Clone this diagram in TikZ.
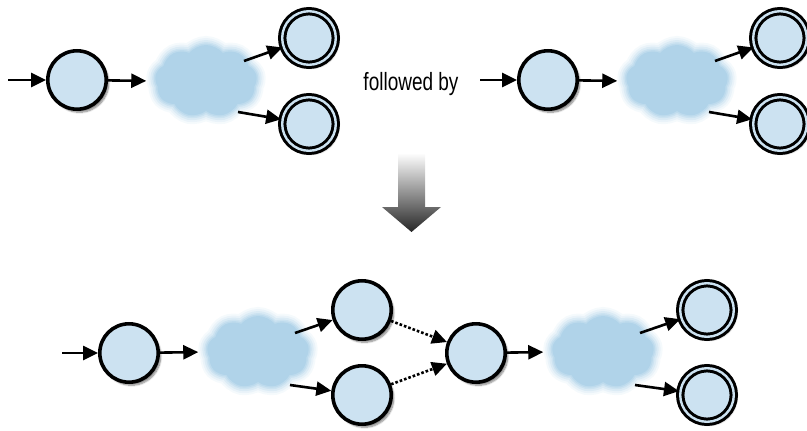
\documentclass[tikz,border=0pt]{standalone}
\usepackage{fontspec}
\newfontfamily\narrowsans[FakeStretch=0.76]{Liberation Sans}
\usetikzlibrary{arrows.meta,shapes.symbols,shadows.blur}

\definecolor{statefill}{RGB}{204,226,241}
\definecolor{cloudfill}{RGB}{176,211,233}

\begin{document}
\begin{tikzpicture}[x=1pt,y=-1pt,
    state/.style={circle,draw,line width=3.6pt,fill=statefill,inner sep=0pt,
        minimum size=58.4pt,
        blur shadow={shadow xshift=2.5pt,shadow yshift=-3pt,shadow blur steps=8,shadow opacity=50}},
    accept/.style={state,line width=3pt,double=statefill,double distance=2.4pt,
        minimum size=53.6pt},
    fuzzy/.style={cloud,cloud puffs=9,cloud puff arc=100,aspect=1.4,
        minimum width=102pt,minimum height=72pt,inner sep=0pt,
        fill=cloudfill,draw=none,
        preaction={draw=cloudfill,line width=18pt,opacity=0.12},
        preaction={draw=cloudfill,line width=14pt,opacity=0.17},
        preaction={draw=cloudfill,line width=10pt,opacity=0.25},
        preaction={draw=cloudfill,line width=6pt,opacity=0.35},
        preaction={draw=cloudfill,line width=3pt,opacity=0.5}},
    edge/.style={line width=2.6pt,-{Triangle[length=15pt,width=14pt]}},
    link/.style={edge,dotted}]
\useasboundingbox (0,0) rectangle (807,431);

% first machine
\coordinate (s1) at (8,80);
\node[state] (q1) at (77,80) {};
\node[fuzzy] (cl1) at (206,81) {};
\node[accept] (a1) at (309,38) {};
\node[accept] (a2) at (309,124) {};
\coordinate (u1) at ([shift={(38,-20)}]cl1.center);
\coordinate (d1) at ([shift={(32,31)}]cl1.center);
\draw[edge] (s1) -- (q1);
\draw[edge,shorten >=9pt] (q1) -- (cl1.west);
\draw[edge] (u1) -- (a1);
\draw[edge] (d1) -- (a2);

\node[font=\narrowsans\fontsize{25}{30}\selectfont] (txt) at (411,84) {followed by};

% second machine
\coordinate (s2) at (480,80);
\node[state] (q2) at (548,80) {};
\node[fuzzy] (cl2) at (677,81) {};
\node[accept] (a3) at (780,38) {};
\node[accept] (a4) at (780,124) {};
\coordinate (u2) at ([shift={(38,-20)}]cl2.center);
\coordinate (d2) at ([shift={(32,31)}]cl2.center);
\draw[edge] (s2) -- (q2);
\draw[edge,shorten >=9pt] (q2) -- (cl2.west);
\draw[edge] (u2) -- (a3);
\draw[edge] (d2) -- (a4);

% big arrow
\shade[top color=white,bottom color=black!85]
    (398,153) -- (425,153) -- (425,207) -- (441,207) -- (411.5,232)
    -- (382,207) -- (398,207) -- cycle;

% joined machine
\coordinate (s3) at (62,353);
\node[state] (q3) at (129,353) {};
\node[fuzzy] (cl3) at (258,352) {};
\node[state] (q4) at (362,310) {};
\node[state] (q5) at (362,395) {};
\node[state] (q6) at (476,353) {};
\node[fuzzy] (cl4) at (603,352) {};
\node[accept] (a5) at (707,310) {};
\node[accept] (a6) at (707,395) {};
\coordinate (u3) at ([shift={(37,-19)}]cl3.center);
\coordinate (d3) at ([shift={(32,33)}]cl3.center);
\coordinate (u4) at ([shift={(37,-19)}]cl4.center);
\coordinate (d4) at ([shift={(32,33)}]cl4.center);
\draw[edge] (s3) -- (q3);
\draw[edge,shorten >=9pt] (q3) -- (cl3.west);
\draw[edge] (u3) -- (q4);
\draw[edge] (d3) -- (q5);
\draw[link] (q4) -- (q6);
\draw[link] (q5) -- (q6);
\draw[edge,shorten >=9pt] (q6) -- (cl4.west);
\draw[edge] (u4) -- (a5);
\draw[edge] (d4) -- (a6);
\end{tikzpicture}
\end{document}
